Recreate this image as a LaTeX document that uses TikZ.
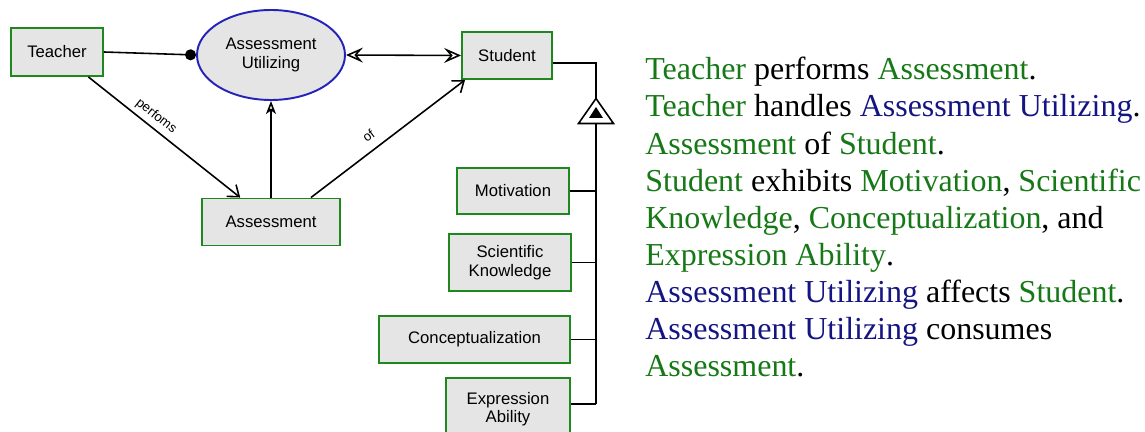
\documentclass[tikz,border=0pt]{standalone}
\usepackage{fontspec}
\setmainfont{Liberation Serif}
\newfontfamily\diagfont{Liberation Sans}
\usetikzlibrary{shapes.geometric,arrows.meta}
\definecolor{objgreen}{RGB}{30,135,30}
\definecolor{procblue}{RGB}{35,35,185}
\definecolor{txtgreen}{RGB}{22,120,22}
\definecolor{txtblue}{RGB}{20,20,130}
\newcommand{\opmobj}[1]{\textcolor{txtgreen}{#1}}
\newcommand{\opmproc}[1]{\textcolor{txtblue}{#1}}
\tikzset{
	object/.style={draw=objgreen, line width=1.1pt, fill=gray!20, align=center, inner sep=1pt, font=\diagfont\fontsize{9.5}{10.5}\selectfont},
	process/.style={ellipse, draw=procblue, line width=1.1pt, fill=gray!20, align=center, inner sep=0pt, font=\diagfont\fontsize{9.5}{10.5}\selectfont},
	link/.style={line width=0.9pt},
	tag/.style={font=\diagfont\fontsize{7.5}{8}\selectfont, sloped, inner sep=1pt}
}
\begin{document}
\begin{tikzpicture}
			\useasboundingbox (0,0) rectangle (22.9,-8.64);
			\node[object, minimum width=1.84cm, minimum height=0.96cm] (teacher) at (1.14,-1.04) {Teacher};
			\node[process, minimum width=2.96cm, minimum height=1.8cm] (util) at (5.42,-1.10) {Assessment\\Utilizing};
			\node[object, minimum width=1.80cm, minimum height=0.94cm] (student) at (10.14,-1.11) {Student};
			\node[object, minimum width=2.76cm, minimum height=0.94cm] (assess) at (5.42,-4.44) {Assessment};
			\node[object, minimum width=2.24cm, minimum height=0.92cm] (motiv) at (10.26,-3.82) {Motivation};
			\node[object, minimum width=2.44cm, minimum height=1.14cm] (sciknow) at (10.20,-5.25) {Scientific\\Knowledge};
			\node[object, minimum width=3.82cm, minimum height=0.94cm] (concept) at (9.49,-6.79) {Conceptualization};
			\node[object, minimum width=2.48cm, minimum height=1.24cm] (express) at (10.16,-8.18) {Expression\\Ability};
			% links between teacher, process and objects
			\draw[link, -{Circle[length=2.2mm]}] (teacher.east) -- (util.west);
			\draw[link, {Stealth[open, length=3.4mm, width=3mm, inset=1.3mm]}-{Stealth[open, length=3.4mm, width=3mm, inset=1.3mm]}] (util.east) -- (student.west);
			\draw[link, -{Stealth[open, length=2.6mm, width=2mm, inset=0.7mm]}] (assess.north) -- (util.south);
			\draw[link, -{Straight Barb[length=2mm, width=3mm]}] (teacher) -- node[tag, pos=0.4, above=1.5pt] {perfoms} (assess);
			\draw[link, -{Straight Barb[length=2mm, width=3mm]}] ([xshift=-0.6cm]assess.north east) -- node[tag, pos=0.43, above=4pt] {of} ([xshift=0.08cm]student.south west);
			% exhibition of the student's attributes
			\coordinate (bus) at (11.92,-1.26);
			\coordinate (tri) at (11.92,-1.97);
			\draw[link] (student.east |- bus) -- (bus) -- (tri);
			\draw[link, fill=white] (tri) -- ++(0.35,-0.5) -- ++(-0.7,0) -- cycle;
			\fill (11.92,-2.14) -- ++(0.14,-0.22) -- ++(-0.28,0) -- cycle;
			\coordinate (last) at ([yshift=0.1cm]express.east);
			\draw[line width=1.1pt] (11.92,-2.47) -- (last -| bus);
			\foreach \n in {motiv,sciknow,concept}
				\draw[link] (\n.east) -- (\n.east -| bus);
			\draw[link] (last) -- (last -| bus);
			\node[anchor=north west, align=left, inner sep=0pt, font=\fontsize{18.2}{21.1}\selectfont] (story) at (12.9,-1.14) {%
				\opmobj{Teacher} performs \opmobj{Assessment}.\\
				\opmobj{Teacher} handles \opmproc{Assessment Utilizing}.\\
				\opmobj{Assessment} of \opmobj{Student}.\\
				\opmobj{Student} exhibits \opmobj{Motivation}, \opmobj{Scientific}\\
				\opmobj{Knowledge}, \opmobj{Conceptualization}, and\\
				\opmobj{Expression Ability}.\\
				\opmproc{Assessment Utilizing} affects \opmobj{Student}.\\
				\opmproc{Assessment Utilizing} consumes\\
				\opmobj{Assessment}.};
		\end{tikzpicture}
\end{document}
